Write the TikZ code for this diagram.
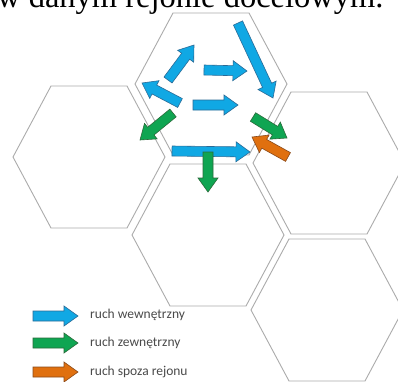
\documentclass[tikz,border=0pt]{standalone}
\usepackage{fontspec}
\newfontfamily\titlefont{Liberation Serif}
\newfontfamily\legendfont{Carlito}
\usetikzlibrary{calc}
\definecolor{cblue}{HTML}{10A8E4}
\definecolor{cblueD}{HTML}{2A6A96}
\definecolor{cgreen}{HTML}{0FA552}
\definecolor{cgreenD}{HTML}{2A6A3A}
\definecolor{corange}{HTML}{E0700F}
\definecolor{corangeD}{HTML}{8A4A1A}
\definecolor{hexgray}{HTML}{ABABAB}
\definecolor{legendgray}{HTML}{4A4A4A}
\tikzset{
  hexline/.style={draw=hexgray, line width=0.9pt, line join=miter},
  barrblue/.style={fill=cblue, draw=cblueD, line width=0.6pt, line join=miter},
  barrgreen/.style={fill=cgreen, draw=cgreenD, line width=0.6pt, line join=miter},
  barrorange/.style={fill=corange, draw=corangeD, line width=0.6pt, line join=miter},
  legtext/.style={font=\legendfont\fontsize{13.5}{15}\selectfont, text=legendgray, anchor=west, inner sep=0pt},
}
\newcommand\hexcell[2]{%
  \draw[hexline] ({#1-76},#2) -- ({#1-38},{#2-71}) -- ({#1+38},{#2-71}) -- ({#1+76},#2)
    -- ({#1+38},{#2+71}) -- ({#1-38},{#2+71}) -- cycle;}
\newcommand\blockarr[3]{%
  \path coordinate (tmpn) at ($(#2)!14pt!(#1)$);
  \draw[#3] ($(#1)!5pt!90:(#2)$) -- ($(tmpn)!5pt!90:(#2)$) -- ($(tmpn)!10pt!90:(#2)$)
    -- (#2) -- ($(tmpn)!10pt!-90:(#2)$) -- ($(tmpn)!5pt!-90:(#2)$)
    -- ($(#1)!5pt!-90:(#2)$) -- cycle;}
\begin{document}
\begin{tikzpicture}[x=1pt,y=-1pt]
\useasboundingbox (0,0) rectangle (398,381);
\clip (0,0) rectangle (398,381);
\fill[white] (0,0) rectangle (398,381);
% title (cut off at top)
\node[font=\titlefont\fontsize{32.5}{36}\selectfont, anchor=base west, inner sep=0pt] (title) at (-3,7) {w danym rejonie docelowym.};
% hexagons
\hexcell{211}{84}
\hexcell{89}{157}
\hexcell{329}{163}
\hexcell{208}{235}
\hexcell{327}{310}
% arrow end points
\coordinate (a1s) at (238,23);  \coordinate (a1e) at (273,98);
\coordinate (a2s) at (168,80);  \coordinate (a2e) at (194,45);
\coordinate (a3s) at (204,70);  \coordinate (a3e) at (247,71);
\coordinate (a4s) at (180,103); \coordinate (a4e) at (142,83);
\coordinate (a5s) at (193,105); \coordinate (a5e) at (238,105);
\coordinate (a6s) at (172,151); \coordinate (a6e) at (250,152);
\coordinate (g1s) at (173,113); \coordinate (g1e) at (140,140);
\coordinate (g2s) at (253,117); \coordinate (g2e) at (287,138);
\coordinate (g3s) at (208,152); \coordinate (g3e) at (208,192);
\coordinate (o1s) at (288,157); \coordinate (o1e) at (252,137);
\blockarr{a1s}{a1e}{barrblue}
\blockarr{a2s}{a2e}{barrblue}
\blockarr{a3s}{a3e}{barrblue}
\blockarr{a4s}{a4e}{barrblue}
\blockarr{a5s}{a5e}{barrblue}
\blockarr{a6s}{a6e}{barrblue}
\blockarr{g1s}{g1e}{barrgreen}
\blockarr{g2s}{g2e}{barrgreen}
\blockarr{g3s}{g3e}{barrgreen}
\blockarr{o1s}{o1e}{barrorange}
% legend
\coordinate (l1s) at (33,316); \coordinate (l1e) at (78,316);
\coordinate (l2s) at (33,343); \coordinate (l2e) at (78,343);
\coordinate (l3s) at (33,372); \coordinate (l3e) at (78,372);
\blockarr{l1s}{l1e}{barrblue}
\blockarr{l2s}{l2e}{barrgreen}
\blockarr{l3s}{l3e}{barrorange}
\node[legtext] (t1) at (90,315) {ruch wewnętrzny};
\node[legtext] (t2) at (90,343) {ruch zewnętrzny};
\node[legtext] (t3) at (90,372) {ruch spoza rejonu};
\end{tikzpicture}
\end{document}
